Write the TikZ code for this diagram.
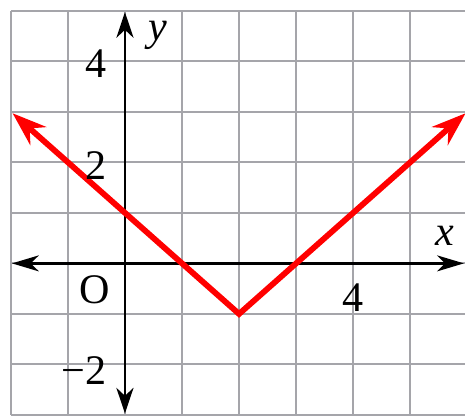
\documentclass[tikz,border=0pt]{standalone}
\usepackage{fontspec}
\setmainfont{Liberation Serif}
\usetikzlibrary{arrows.meta}

\begin{document}
\begin{tikzpicture}[x=1cm, y=0.886cm, font=\fontsize{21}{25}\selectfont]
	\useasboundingbox (-2.19,-3.05) rectangle (5.96,5.21);
	\clip (-2.19,-3.05) rectangle (5.96,5.21);
	\foreach \i in {-2,...,6}
		\draw[color={rgb,255:red,165;green,165;blue,170}, line width=1pt] (\i,-3) -- (\i,5);
	\foreach \j in {-3,...,5}
		\draw[color={rgb,255:red,165;green,165;blue,170}, line width=1pt] (-2,\j) -- (6,\j);
	\draw[line width=1.2pt, {Stealth[length=0.47cm, width=0.28cm, inset=0.14cm]}-{Stealth[length=0.47cm, width=0.28cm, inset=0.14cm]}] 
	(-1.98,0) -- (5.94,0);
	\draw[line width=1.2pt, {Stealth[length=0.45cm, width=0.3cm, inset=0.14cm]}-{Stealth[length=0.45cm, width=0.3cm, inset=0.14cm]}] 
	(0,-2.97) -- (0,4.97);
	% y = |x-2| - 1
	\coordinate (lefttip) at (-1.97,2.97);
	\coordinate (vertex) at (2,-1);
	\coordinate (righttip) at (5.97,2.97);
	\draw[red, line width=2.9pt, line join=miter, {Stealth[length=0.6cm, width=0.42cm, inset=0.2cm]}-{Stealth[length=0.6cm, width=0.42cm, inset=0.2cm]}] 
	(lefttip) -- (vertex) -- (righttip);
	\node (ylabel) at (0.58,4.51) {\textit{y}};
	\node (xlabel) at (5.61,0.55) {\textit{x}};
	\node (origin) at (-0.53,-0.53) {O};
	\node[anchor=east] (yfour) at (-0.2,3.96) {4};
	\node[anchor=east] (ytwo) at (-0.2,1.94) {2};
	\node[anchor=east] (ymtwo) at (-0.2,-2.12) {−2};
	\node (xfour) at (4,-0.67) {4};
\end{tikzpicture}
\end{document}
